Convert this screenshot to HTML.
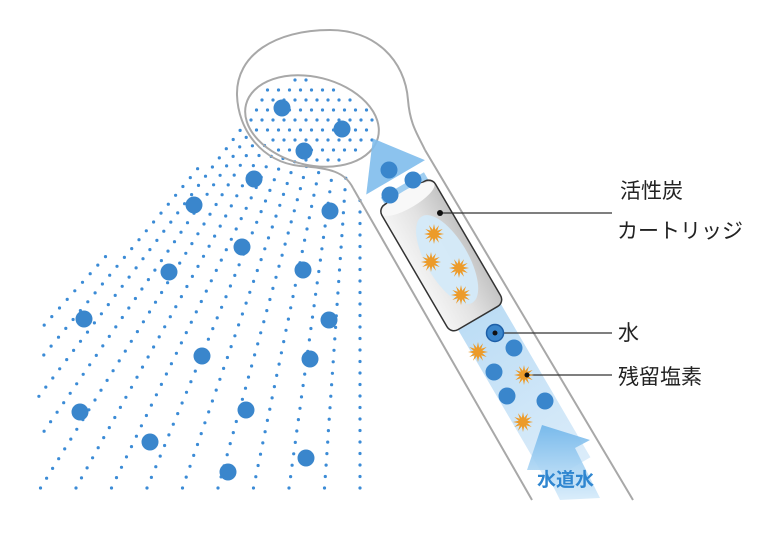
<!DOCTYPE html>
<html><head><meta charset="utf-8"><style>
html,body{margin:0;padding:0;background:#fff;width:780px;height:550px;overflow:hidden}
svg{display:block}
text{font-family:"Liberation Sans","Noto Sans CJK JP",sans-serif}
</style></head><body>
<svg id="s" width="780" height="550" viewBox="0 0 780 550" xmlns="http://www.w3.org/2000/svg">
<defs>
<linearGradient id="flow" x1="0" y1="1" x2="0" y2="0">
<stop offset="0" stop-color="#cfe6f8"/><stop offset="0.5" stop-color="#a9d3f2"/><stop offset="1" stop-color="#7fbdec"/>
</linearGradient>
<linearGradient id="cart" x1="0" y1="0" x2="1" y2="0">
<stop offset="0" stop-color="#f4f4f4"/><stop offset="0.5" stop-color="#e2e2e2"/><stop offset="1" stop-color="#c4c4c4"/>
</linearGradient>
<linearGradient id="arr" x1="0" y1="1" x2="0" y2="0">
<stop offset="0" stop-color="#d6ebfa"/><stop offset="1" stop-color="#6fb5ea"/>
</linearGradient>
</defs>
<g id="dots"></g>
<path d="M353,188 C345,172 330,168 300,166 C262,162 238,130 237,95 C236,55 275,30 330,30 C375,30 405,60 408,100 C410,125 418,135 425,150" fill="none" stroke="#a8a8a8" stroke-width="2"/>
<ellipse cx="312" cy="121" rx="68" ry="44" transform="rotate(14 312 121)" fill="none" stroke="#a8a8a8" stroke-width="2"/>
<line x1="353" y1="188" x2="532" y2="500" stroke="#a8a8a8" stroke-width="2"/>
<line x1="425" y1="150" x2="633" y2="500" stroke="#a8a8a8" stroke-width="2"/>
<g transform="rotate(-30.3 441 255)">
<rect x="418" y="175" width="50" height="330" fill="url(#flow)" opacity="0.75"/>
<polygon points="441,120 475,165 407,165" fill="#7fbdec" opacity="0.9"/>
</g>
<polygon points="542,425 590,440 575,448 600,498 560,500 545,470 527,470" fill="url(#arr)" opacity="0.9"/>
<g transform="rotate(-30.3 441 255)">
<rect x="410" y="183" width="62" height="145" rx="8" fill="url(#cart)" stroke="#333" stroke-width="1.5"/>
<ellipse cx="441" cy="190" rx="30" ry="9" fill="#f8f8f8"/>
<ellipse cx="444" cy="262" rx="21" ry="50" fill="#d4eaf9" opacity="0.95"/>
</g>
<text x="537" y="486" font-size="19" fill="#2f86d0" font-weight="bold">水道水</text>
<line x1="440" y1="213" x2="612" y2="213" stroke="#333" stroke-width="1.3"/>
<circle cx="440" cy="213" r="3" fill="#111"/>
<line x1="495" y1="333" x2="612" y2="333" stroke="#333" stroke-width="1.3"/>
<line x1="527" y1="375" x2="612" y2="375" stroke="#333" stroke-width="1.3"/>
<text x="620" y="198" font-size="21" fill="#222">活性炭</text>
<text x="617" y="238" font-size="21" fill="#222">カートリッジ</text>
<text x="618" y="340" font-size="21" fill="#222">水</text>
<text x="618" y="384" font-size="21" fill="#222">残留塩素</text>
<g id="big"></g>
</svg>
<script>
(function(){
var NS="http://www.w3.org/2000/svg";
var g=document.getElementById("dots");
function dot(p,x,y,r,c){var e=document.createElementNS(NS,"circle");e.setAttribute("cx",x.toFixed(1));e.setAttribute("cy",y.toFixed(1));e.setAttribute("r",r);e.setAttribute("fill",c);p.appendChild(e);return e;}
var poly=[[38,490],[38,322],[238,128],[300,162],[345,172],[362,200],[362,490]];
function inside(x,y){var c=false;for(var i=0,j=poly.length-1;i<poly.length;j=i++){var xi=poly[i][0],yi=poly[i][1],xj=poly[j][0],yj=poly[j][1];if(((yi>y)!=(yj>y))&&(x<(xj-xi)*(y-yi)/(yj-yi)+xi))c=!c;}return c;}
var fx=360,fy=-28;
for(var xb=360;xb>=-400;xb-=35.5){
 var dx=fx-xb,dy=fy-488,L=Math.sqrt(dx*dx+dy*dy);dx/=L;dy/=L;
 for(var t=0;t<700;t+=11.5){var x=xb+dx*t,y=488+dy*t;if(inside(x,y))dot(g,x,y,1.6,"#3b8bd6");}
}
for(var yy=80;yy<170;yy+=10){for(var xx=240;xx<390;xx+=11){var ox=xx+((yy/10)%2)*5.5;var cx=ox-312,cy=yy-121;var a=14*Math.PI/180;var u=cx*Math.cos(a)+cy*Math.sin(a),v=-cx*Math.sin(a)+cy*Math.cos(a);if(u*u/(64*64)+v*v/(40*40)<1)dot(g,ox,yy,1.6,"#3b8bd6");}}
var b=document.getElementById("big");
var B=[[282,108],[342,129],[304,151],[254,179],[194,205],[330,211],[242,247],[303,270],[169,272],[329,320],[84,319],[202,356],[310,359],[80,412],[246,410],[150,442],[306,458],[228,472],[389,170],[413,180],[390,195],[514,348],[494,372],[507,396],[545,401]];
B.forEach(function(p){dot(b,p[0],p[1],8.5,"#3a86cc");});
var w=dot(b,495,333,8.5,"#3a86cc");w.setAttribute("stroke","#1d5fa8");w.setAttribute("stroke-width","1.5");
dot(b,495,333,2.5,"#111");
function star(x,y){var pts=[];for(var i=0;i<24;i++){var r=i%2?4.5:10;var a=i*Math.PI/12;pts.push((x+r*Math.cos(a)).toFixed(1)+","+(y+r*Math.sin(a)).toFixed(1));}var e=document.createElementNS(NS,"polygon");e.setAttribute("points",pts.join(" "));e.setAttribute("fill","#ec9b2a");b.appendChild(e);}
[[434,234],[431,262],[459,268],[461,295],[478,352],[524,375],[523,422]].forEach(function(p){star(p[0],p[1]);});
dot(b,527,375,2.5,"#111");
})();
</script>
</body></html>
